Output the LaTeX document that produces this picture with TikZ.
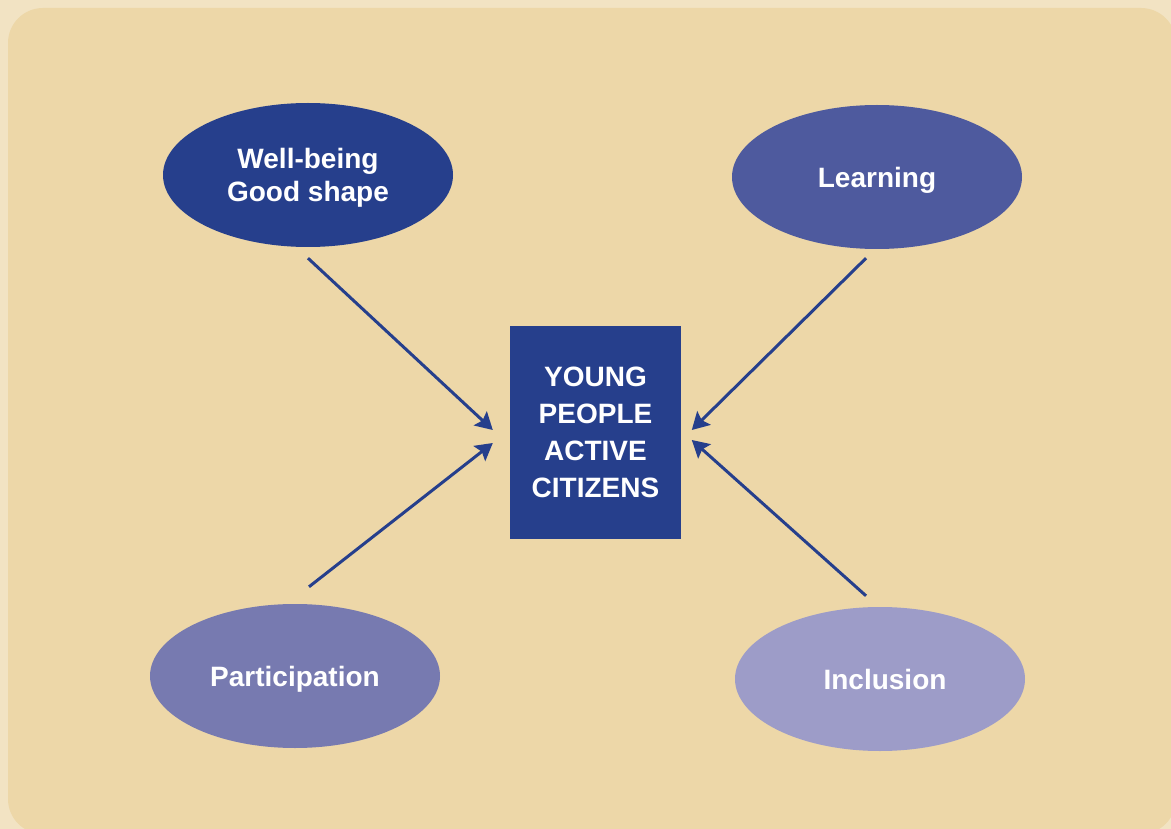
\documentclass[tikz,border=0pt]{standalone}
\usepackage{fontspec}
\setmainfont{Liberation Sans}
\usetikzlibrary{shapes.geometric,arrows.meta}

\definecolor{pagebg}{HTML}{F2E3C3}
\definecolor{panelbg}{HTML}{EDD7A8}
\definecolor{darkblue}{HTML}{263F8C}
\definecolor{learnblue}{HTML}{4E5A9E}
\definecolor{partblue}{HTML}{777AB0}
\definecolor{inclblue}{HTML}{9D9CC8}

\tikzset{
  bubble/.style={ellipse, minimum width=290pt, minimum height=144pt, inner sep=0pt,
    text=white, font=\bfseries\fontsize{28}{33}\selectfont, align=center, text depth=0pt},
  citizenbox/.style={rectangle, fill=darkblue, minimum width=171pt, minimum height=213pt,
    text=white, font=\bfseries\fontsize{28}{37}\selectfont, align=center},
  arr/.style={-{Stealth[length=17pt,width=19pt,inset=3pt]}, line width=3pt, draw=darkblue}
}

\begin{document}
\begin{tikzpicture}[x=1pt,y=-1pt]
  \useasboundingbox[fill=pagebg] (0,0) rectangle (1171,829);
  \fill[panelbg, rounded corners=35pt] (8,8) rectangle (1176,834);

  % the four themes
  \node[bubble, fill=darkblue] (wellbeing) at (308,175) {Well-being\\Good shape};
  \node[bubble, fill=learnblue] (learning) at (877,177) {Learning};
  \node[bubble, fill=partblue] (participation) at (295,676) {Participation};
  \node[bubble, fill=inclblue] (inclusion) at (880,679) {\hspace{10pt}Inclusion};

  % centre
  \node[citizenbox] (citizens) at (595.5,432.5) {YOUNG\\PEOPLE\\ACTIVE\\CITIZENS};

  \draw[arr] ([yshift=-11pt]wellbeing.south) -- ([xshift=-17pt,yshift=2.5pt]citizens.west);
  \draw[arr] ([xshift=-11pt,yshift=-9pt]learning.south) -- ([xshift=182pt,yshift=2.5pt]citizens.west);
  \draw[arr] ([xshift=14pt,yshift=17pt]participation.north) -- ([xshift=-17pt,yshift=-10.5pt]citizens.west);
  \draw[arr] ([xshift=-14pt,yshift=11pt]inclusion.north) -- ([xshift=182pt,yshift=-7.5pt]citizens.west);
\end{tikzpicture}
\end{document}
